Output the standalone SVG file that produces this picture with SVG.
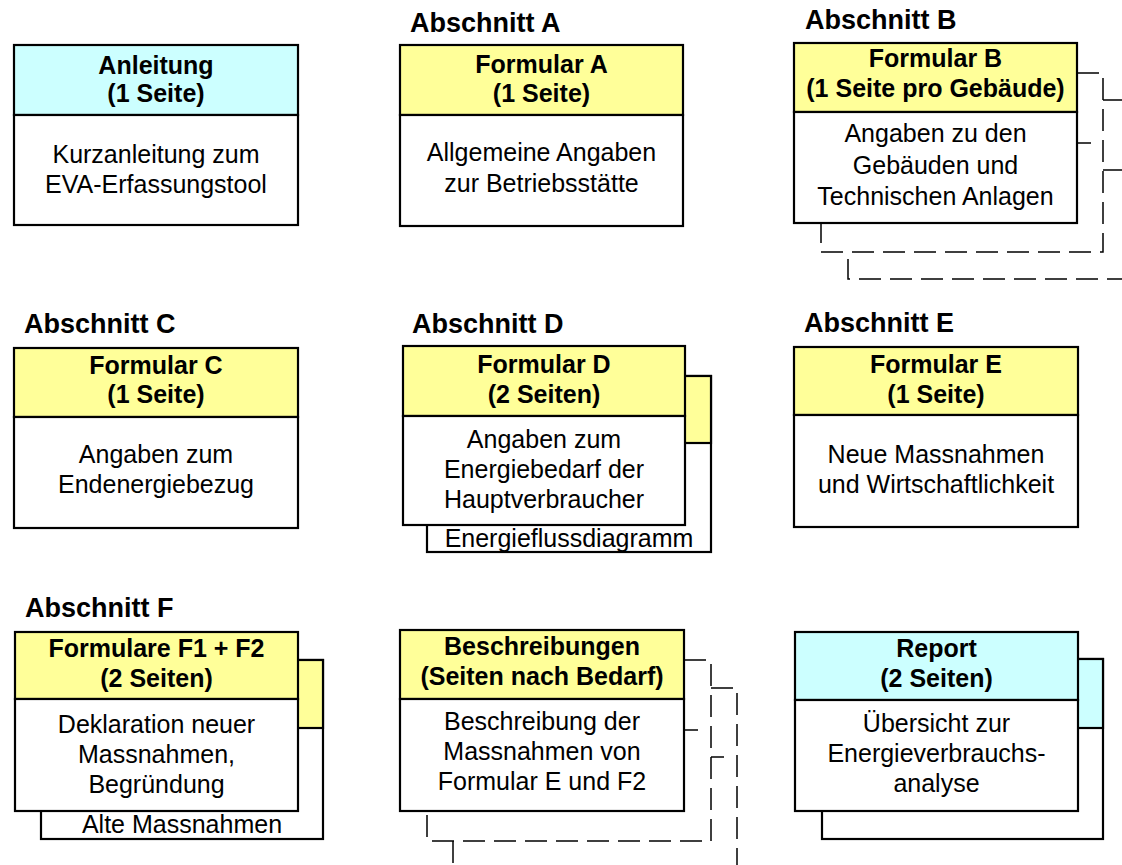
<svg xmlns="http://www.w3.org/2000/svg" width="1122" height="865" viewBox="0 0 1122 865">
<style>
  .y { fill: #FFFF99; stroke: #000; stroke-width: 2.2; }
  .c { fill: #CCFFFF; stroke: #000; stroke-width: 2.2; }
  .w { fill: #FFFFFF; stroke: #000; stroke-width: 2.2; }
  .d { fill: none; stroke: #000; stroke-width: 1.5; stroke-dasharray: 22 9; }
  .dl { fill: none; stroke: #000; stroke-width: 1.5; }
  text { font-family: "Liberation Sans", Arial, sans-serif; fill: #000; }
  .t { font-size: 27px; font-weight: bold; }
  .h { font-size: 25px; font-weight: bold; text-anchor: middle; }
  .b { font-size: 25px; text-anchor: middle; }
</style>
<rect width="1122" height="865" fill="#FFFFFF"/>

<g id="titles">
  <text class="t" x="410" y="32">Abschnitt A</text>
  <text class="t" x="805" y="29">Abschnitt B</text>
  <text class="t" x="24" y="333">Abschnitt C</text>
  <text class="t" x="412" y="333">Abschnitt D</text>
  <text class="t" x="804" y="332">Abschnitt E</text>
  <text class="t" x="25" y="617">Abschnitt F</text>
</g>

<g id="connectors"></g>

<g id="anleitung">
  <rect class="c" x="14" y="45" width="284" height="70"/>
  <rect class="w" x="14" y="115" width="284" height="110"/>
  <text class="h" x="156" y="74">Anleitung</text>
  <text class="h" x="156" y="102">(1 Seite)</text>
  <text class="b" x="156" y="163">Kurzanleitung zum</text>
  <text class="b" x="156" y="193">EVA-Erfassungstool</text>
</g>

<g id="formular-a">
  <rect class="y" x="400" y="45" width="283" height="70"/>
  <rect class="w" x="400" y="115" width="283" height="111"/>
  <text class="h" x="541.5" y="73">Formular A</text>
  <text class="h" x="541.5" y="102">(1 Seite)</text>
  <text class="b" x="541.5" y="161">Allgemeine Angaben</text>
  <text class="b" x="541.5" y="192">zur Betriebsstätte</text>
</g>

<g id="formular-b">
  <path class="d" d="M1103,100 H1135 V279 H848 V252"/>
  <path class="dl" d="M1103,170 H1135"/>
  <rect x="821" y="73" width="282" height="179" fill="#FFFFFF"/>
  <path class="d" d="M1077,73 H1103 V252 H821 V223"/>
  <path class="dl" d="M1077,143 H1091"/>
  <rect class="y" x="794" y="43" width="283" height="69"/>
  <rect class="w" x="794" y="112" width="283" height="111"/>
  <text class="h" x="935.5" y="67">Formular B</text>
  <text class="h" x="935.5" y="97">(1 Seite pro Gebäude)</text>
  <text class="b" x="935.5" y="142">Angaben zu den</text>
  <text class="b" x="935.5" y="174">Gebäuden und</text>
  <text class="b" x="935.5" y="205">Technischen Anlagen</text>
</g>

<g id="formular-c">
  <rect class="y" x="14" y="348" width="284" height="69"/>
  <rect class="w" x="14" y="417" width="284" height="111"/>
  <text class="h" x="156" y="374">Formular C</text>
  <text class="h" x="156" y="403">(1 Seite)</text>
  <text class="b" x="156" y="463">Angaben zum</text>
  <text class="b" x="156" y="493">Endenergiebezug</text>
</g>

<g id="formular-d">
  <rect class="w" x="427" y="376" width="284" height="176"/>
  <rect class="y" x="427" y="376" width="284" height="67"/>
  <rect class="y" x="403" y="346" width="282" height="70"/>
  <rect class="w" x="403" y="416" width="282" height="109"/>
  <text class="b" x="569" y="547">Energieflussdiagramm</text>
  <text class="h" x="544" y="373">Formular D</text>
  <text class="h" x="544" y="403">(2 Seiten)</text>
  <text class="b" x="544" y="448">Angaben zum</text>
  <text class="b" x="544" y="478">Energiebedarf der</text>
  <text class="b" x="544" y="508">Hauptverbraucher</text>
</g>

<g id="formular-e">
  <rect class="y" x="794" y="347" width="284" height="68"/>
  <rect class="w" x="794" y="415" width="284" height="112"/>
  <text class="h" x="936" y="373">Formular E</text>
  <text class="h" x="936" y="403">(1 Seite)</text>
  <text class="b" x="936" y="463">Neue Massnahmen</text>
  <text class="b" x="936" y="493">und Wirtschaftlichkeit</text>
</g>

<g id="formular-f">
  <rect class="w" x="41" y="660" width="282" height="179"/>
  <rect class="y" x="41" y="660" width="282" height="68"/>
  <rect class="y" x="15" y="632" width="283" height="67"/>
  <rect class="w" x="15" y="699" width="283" height="112"/>
  <text class="b" x="182" y="833">Alte Massnahmen</text>
  <text class="h" x="156.5" y="657">Formulare F1 + F2</text>
  <text class="h" x="156.5" y="687">(2 Seiten)</text>
  <text class="b" x="156.5" y="733">Deklaration neuer</text>
  <text class="b" x="156.5" y="763">Massnahmen,</text>
  <text class="b" x="156.5" y="793">Begründung</text>
</g>

<g id="beschreibungen">
  <path class="d" d="M711,688 H737 V872"/>
  <path class="d" d="M453,841 V872"/>
  <path class="dl" d="M711,757 H724"/>
  <rect x="427" y="660" width="284" height="181" fill="#FFFFFF"/>
  <path class="d" d="M684,660 H711 V841 H427 V811"/>
  <path class="dl" d="M684,730 H698"/>
  <rect class="y" x="400" y="630" width="284" height="69"/>
  <rect class="w" x="400" y="699" width="284" height="112"/>
  <text class="h" x="542" y="655">Beschreibungen</text>
  <text class="h" x="542" y="685">(Seiten nach Bedarf)</text>
  <text class="b" x="542" y="730">Beschreibung der</text>
  <text class="b" x="542" y="760">Massnahmen von</text>
  <text class="b" x="542" y="790">Formular E und F2</text>
</g>

<g id="report">
  <rect class="w" x="822" y="659" width="281" height="180"/>
  <rect class="c" x="822" y="659" width="281" height="69"/>
  <rect class="c" x="795" y="632" width="283" height="68"/>
  <rect class="w" x="795" y="700" width="283" height="111"/>
  <text class="h" x="936.5" y="657">Report</text>
  <text class="h" x="936.5" y="687">(2 Seiten)</text>
  <text class="b" x="936.5" y="732">Übersicht zur</text>
  <text class="b" x="936.5" y="762">Energieverbrauchs-</text>
  <text class="b" x="936.5" y="792">analyse</text>
</g>
</svg>
